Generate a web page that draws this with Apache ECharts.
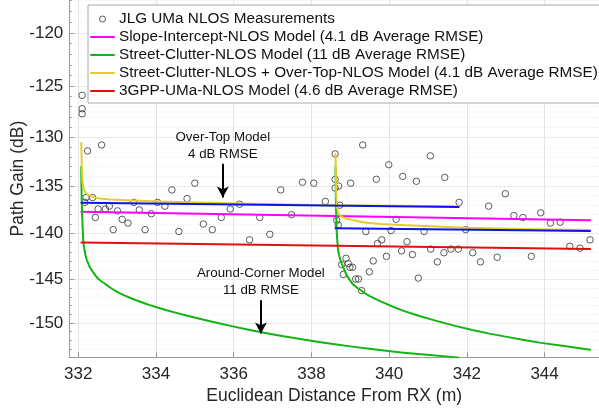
<!DOCTYPE html>
<html><head><meta charset="utf-8">
<script src="https://cdn.jsdelivr.net/npm/echarts@6/dist/echarts.min.js"></script>
<style>html,body{margin:0;padding:0;background:#fff}#c{width:599px;height:414px}</style>
</head><body><div id="c"></div>
<script>
// ---- tick labels ----
const xTicks = [332, 334, 336, 338, 340, 342, 344];
const yTicks = [-150, -145, -140, -135, -130, -125, -120];
const yMinorTicks = [];
for (let v = -117; v >= -154; v--) yMinorTicks.push(v);

// ---- measurements ----
const measX = [332.10,332.10,332.10,332.24,332.60,332.17,332.20,332.37,332.44,332.51,
332.70,332.80,332.90,333.01,333.13,333.28,333.43,333.57,333.72,333.88,
334.04,334.23,334.41,334.59,334.80,335.00,335.22,335.45,335.68,335.91,
336.15,336.41,336.67,336.93,337.21,337.49,337.77,338.06,338.36,338.61,
338.61,338.70,338.61,338.73,338.65,338.69,339.01,339.32,339.40,339.67,
339.81,339.70,339.59,338.89,338.78,338.95,338.99,339.06,338.82,339.14,
339.21,339.49,339.93,339.99,340.05,340.18,340.32,340.35,340.46,340.60,
340.70,340.75,340.90,341.06,341.07,341.24,341.41,341.43,341.59,341.78,
341.80,341.97,342.15,342.35,342.56,342.78,342.99,343.21,343.44,343.66,
343.90,344.15,344.40,344.65,344.91,345.17,339.29];
const measY = [-125.9,-127.2,-127.7,-131.4,-130.8,-136.7,-136.2,-136.2,-138.3,-137.4,
-137.4,-137.1,-139.6,-137.6,-138.5,-138.9,-136.7,-137.5,-139.6,-137.9,
-136.7,-137.1,-135.4,-139.8,-136.3,-134.7,-139.0,-139.6,-138.3,-137.4,
-136.9,-140.7,-138.3,-140.1,-135.4,-138.0,-134.6,-134.7,-136.6,-131.7,
-134.3,-135.0,-135.2,-137.0,-138.6,-139.1,-134.7,-130.8,-139.8,-134.3,
-140.7,-141.1,-143.0,-142.7,-143.4,-143.3,-143.7,-143.7,-144.5,-145.0,
-145.0,-144.2,-142.5,-132.8,-139.7,-138.5,-141.9,-134.0,-140.9,-142.3,
-134.5,-144.9,-139.8,-131.9,-141.7,-143.1,-142.1,-134.1,-141.7,-141.7,
-136.7,-139.6,-142.1,-143.1,-137.1,-142.6,-135.8,-138.1,-138.3,-142.5,
-137.8,-138.9,-138.8,-141.4,-141.6,-140.7,-146.3];

// ---- models ----
const slopeX = [332.08, 338.6, 345.17];
const slopeY = [-137.7, -138.15, -138.6];
const gppX = [332.08, 338.6, 345.17];
const gppY = [-141.0, -141.35, -141.7];
const clutter1X = [332.077,332.083,332.09,332.10,332.11,332.12,332.13,332.15,332.17,332.195,332.22,332.26,332.30,332.345,332.39,332.45,332.52,332.60,332.68,332.75,332.82,332.93,333.05,333.17,333.30,333.47,333.65,333.82,334.0,334.25,334.5,334.78,335.07,335.5,335.95,336.32,336.71,337.2,337.72,338.15,338.6,339.05,339.49,339.92,340.37,340.98,341.6,341.79];
const clutter1Y = [-133.0,-134.9,-136.5,-137.9,-139.0,-140.0,-140.8,-141.5,-142.0,-142.5,-142.9,-143.3,-143.7,-144.0,-144.3,-144.65,-145.0,-145.28,-145.5,-145.74,-145.95,-146.26,-146.55,-146.81,-147.05,-147.36,-147.65,-147.91,-148.15,-148.49,-148.8,-149.13,-149.45,-149.91,-150.35,-150.71,-151.05,-151.46,-151.85,-152.16,-152.45,-152.74,-153.0,-153.23,-153.45,-153.71,-153.95,-154.05];
const clutter2X = [338.62,338.625,338.63,338.64,338.65,338.67,338.69,338.715,338.74,338.76,338.78,338.815,338.85,338.88,338.91,338.99,339.07,339.16,339.25,339.37,339.49,339.71,339.93,340.15,340.37,340.8,341.26,341.7,342.14,342.58,343.03,343.47,343.91,344.55,345.17];
const clutter2Y = [-133.0,-134.9,-136.5,-138.3,-139.8,-141.0,-141.9,-142.4,-142.8,-143.05,-143.3,-143.68,-144.0,-144.32,-144.6,-145.12,-145.6,-145.92,-146.2,-146.57,-146.9,-147.37,-147.8,-148.21,-148.6,-149.22,-149.8,-150.32,-150.8,-151.22,-151.6,-151.96,-152.3,-152.71,-153.1];
const comb1X = [332.077,332.085,332.09,332.10,332.11,332.13,332.15,332.17,332.195,332.22,332.26,332.30,332.39,332.55,332.82,333.4,334.1,335.82,338.39,341.79];
const comb1Y = [-130.6,-131.9,-132.7,-133.8,-134.6,-135.1,-135.4,-135.6,-135.72,-135.8,-135.92,-136.0,-136.15,-136.3,-136.4,-136.5,-136.6,-136.8,-137.0,-137.1];
const comb2X = [338.62,338.625,338.63,338.64,338.65,338.66,338.675,338.69,338.715,338.74,338.78,338.82,338.9,338.99,339.2,339.42,339.8,340.28,341.99,343.71,345.17];
const comb2Y = [-131.7,-133.0,-134.0,-136.0,-136.7,-137.2,-137.55,-137.8,-137.97,-138.1,-138.22,-138.3,-138.41,-138.5,-138.7,-138.85,-139.0,-139.1,-139.4,-139.55,-139.65];
const overTop1X = [332.08, 341.79];
const overTop1Y = [-136.75, -137.2];
const overTop2X = [338.62, 345.17];
const overTop2Y = [-139.45, -139.75];

// ---- annotations (data coords) ----
const annoText = ['Over-Top Model\n4 dB RMSE', 'Around-Corner Model\n11 dB RMSE'];
const annoTextX = [335.72, 336.70];
const annoTextY = [-130.9, -145.3];
const arrowX = [335.72, 336.70];
const arrowFromY = [-132.7, -147.4];
const arrowToY = [-136.2, -151.2];

const names = ['JLG UMa NLOS Measurements',
  'Slope-Intercept-NLOS Model (4.1 dB Average RMSE)',
  'Street-Clutter-NLOS Model (11 dB Average RMSE)',
  'Street-Clutter-NLOS + Over-Top-NLOS Model (4.1 dB Average RMSE)',
  '3GPP-UMa-NLOS Model (4.6 dB Average RMSE)'];

// log-magnitude transform (the y axis is logarithmic in |path gain|)
const T = v => Math.log10(-v);
const pts = (xs, ys) => xs.map((x, i) => [x, T(ys[i])]);
const FONT = "'Liberation Sans', Arial, Helvetica, sans-serif";

const lineS = (name, xs, ys, color) => ({
  name, type: 'line', data: pts(xs, ys), symbol: 'none', showSymbol: false,
  smooth: false,
  lineStyle: { color, width: 2, join: 'round', cap: 'round' }, itemStyle: { color }, clip: true,
  emphasis: { disabled: true }, silent: true
});

const chart = echarts.init(document.getElementById('c'), null, { renderer: 'canvas' });
const yMin = T(-117), yMax = T(-154);

chart.setOption({
  animation: false,
  backgroundColor: '#fff',
  grid: { left: 69.3, right: 0, top: 0, bottom: 56.7, containLabel: false, outerBoundsMode: 'none' },
  xAxis: {
    type: 'value', min: 331.77, max: 345.4,
    name: 'Euclidean Distance From RX (m)', nameLocation: 'middle', nameGap: 30, nameMoveOverlap: false,
    nameTextStyle: { fontFamily: FONT, fontSize: 17.5, color: '#262626' },
    axisLine: { show: true, lineStyle: { color: '#9a9a9a', width: 1 } },
    axisTick: { show: true, inside: true, length: 5, customValues: xTicks, lineStyle: { color: '#9a9a9a' } },
    axisLabel: { customValues: xTicks, margin: 9, fontFamily: FONT, fontSize: 17, color: '#262626' },
    splitLine: { show: true, lineStyle: { color: '#e4e4e4', width: 1 } }
  },
  yAxis: [{
    type: 'value', inverse: true, min: yMin, max: yMax, position: 'left',
    name: 'Path Gain (dB)', nameLocation: 'middle', nameGap: 42, nameMoveOverlap: false,
    nameTextStyle: { fontFamily: FONT, fontSize: 17.5, color: '#262626' },
    axisLine: { show: true, lineStyle: { color: '#9a9a9a', width: 1 } },
    axisTick: { show: true, inside: true, length: 5, customValues: yTicks.map(T), lineStyle: { color: '#9a9a9a' } },
    axisLabel: { customValues: yTicks.map(T), margin: 6, fontFamily: FONT, fontSize: 17, color: '#262626',
      formatter: v => String(-Math.round(Math.pow(10, v))) },
    splitLine: { show: true, lineStyle: { color: '#e4e4e4', width: 1 } }
  }, {
    type: 'value', inverse: true, min: yMin, max: yMax, position: 'left', offset: 0,
    axisLine: { show: false },
    axisTick: { show: true, inside: true, length: 2.5, customValues: yMinorTicks.map(T), lineStyle: { color: '#9a9a9a' } },
    axisLabel: { show: false },
    splitLine: { show: true, lineStyle: { color: '#f0f0f0', width: 1, type: [2, 2] } }
  }],
  legend: {
    left: 88, top: 5, orient: 'vertical',
    data: names.map((n, i) => i === 0
      ? { name: n, icon: 'circle', itemStyle: { color: 'rgba(0,0,0,0)', borderColor: '#333', borderWidth: 1 } }
      : { name: n, itemStyle: { opacity: 0 } }),
    itemWidth: 23, itemHeight: 6, itemGap: 0,
    padding: [5, 3, 3, 2],
    backgroundColor: '#fff', borderColor: '#a8a8a8', borderWidth: 1, borderRadius: 0,
    textStyle: { fontFamily: FONT, fontSize: 15.3, color: '#111', lineHeight: 18 },
    selectedMode: false
  },
  series: [
    {
      name: names[0], type: 'scatter', data: pts(measX, measY),
      symbol: 'circle', symbolSize: 6.5,
      itemStyle: { color: 'rgba(0,0,0,0)', borderColor: '#333', borderWidth: 1 },
      emphasis: { disabled: true }, silent: true
    },
    lineS(names[1], slopeX, slopeY, '#ff00ff'),
    lineS(names[2], clutter1X, clutter1Y, '#12b412'),
    lineS(names[2], clutter2X, clutter2Y, '#12b412'),
    lineS(names[3], comb1X, comb1Y, '#e6cc2a'),
    lineS(names[3], comb2X, comb2Y, '#e6cc2a'),
    lineS(names[4], gppX, gppY, '#e01010'),
    lineS('Over-Top', overTop1X, overTop1Y, '#0a14f0'),
    Object.assign(lineS('Over-Top', overTop2X, overTop2Y, '#0a14f0'), {
      markLine: {
        silent: true, symbol: ['none', 'arrow'], symbolSize: [9, 11], animation: false,
        lineStyle: { color: '#000', width: 2, type: 'solid' }, label: { show: false },
        emphasis: { disabled: true },
        data: arrowX.map((x, i) => [{ coord: [x, T(arrowFromY[i])] }, { coord: [x, T(arrowToY[i])] }])
      },
      markPoint: {
        silent: true, symbol: 'circle', symbolSize: 0, animation: false,
        label: { show: true, position: 'inside', formatter: p => p.name, color: '#111',
          fontFamily: FONT, fontSize: 13.3, lineHeight: 17.3 },
        data: annoText.map((t, i) => ({ name: t, coord: [annoTextX[i], T(annoTextY[i])] }))
      }
    })
  ]
});
</script></body></html>
